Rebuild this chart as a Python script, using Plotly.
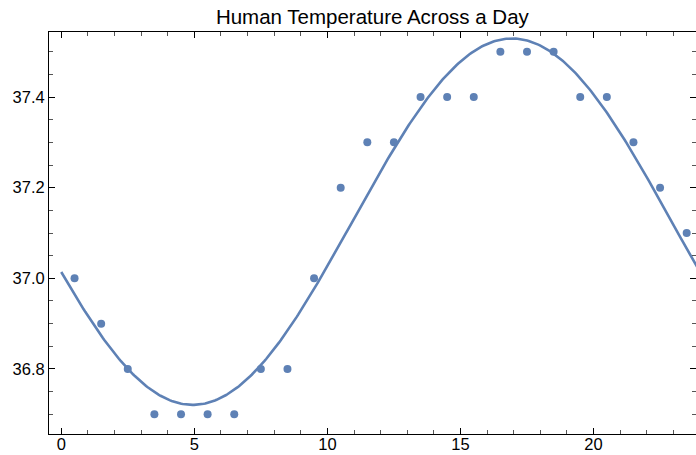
import numpy as np
import plotly.graph_objects as go

hours = [0.5, 1.5, 2.5, 3.5, 4.5, 5.5, 6.5, 7.5, 8.5, 9.5, 10.5, 11.5,
         12.5, 13.5, 14.5, 15.5, 16.5, 17.5, 18.5, 19.5, 20.5, 21.5, 22.5, 23.5]
temps = [37.0, 36.9, 36.8, 36.7, 36.7, 36.7, 36.7, 36.8, 36.8, 37.0, 37.2, 37.3,
         37.3, 37.4, 37.4, 37.4, 37.5, 37.5, 37.5, 37.4, 37.4, 37.3, 37.2, 37.1]
x_ticks = [0, 5, 10, 15, 20]
y_ticks = [36.8, 37.0, 37.2, 37.4]
y_tick_text = ["36.8", "37.0", "37.2", "37.4"]

# least-squares sinusoidal fit (period 24 h)
h = np.array(hours)
w = 2 * np.pi / 24
A = np.column_stack([np.ones_like(h), np.cos(w * h), np.sin(w * h)])
coef, *_ = np.linalg.lstsq(A, np.array(temps), rcond=None)
xf = np.linspace(0, 24, 400)
yf = coef[0] + coef[1] * np.cos(w * xf) + coef[2] * np.sin(w * xf)

col = "#5E81B5"
fig = go.Figure()
fig.add_trace(go.Scatter(x=xf, y=yf, mode="lines",
                         line=dict(color=col, width=2.6), hoverinfo="skip"))
fig.add_trace(go.Scatter(x=hours, y=temps, mode="markers",
                         marker=dict(color=col, size=8)))

axis_common = dict(showgrid=False, zeroline=False, showline=True, linecolor="black",
                   linewidth=1, mirror="allticks", ticks="inside", tickcolor="black",
                   ticklen=6, tickwidth=1, automargin=False,
                   tickfont=dict(family="Liberation Sans, Arial", size=16.5, color="black"))
fig.update_layout(
    width=696, height=455,
    margin=dict(l=49, r=0, t=32, b=21, autoexpand=False),
    plot_bgcolor="white", paper_bgcolor="white",
    showlegend=False,
    title=dict(text="Human Temperature Across a Day", x=0.535, xanchor="center",
               y=0.962, yanchor="middle", automargin=False,
               font=dict(family="Liberation Sans, Arial", size=20.5, color="black")),
    xaxis=dict(range=[-0.46, 23.85], tickvals=x_ticks, ticklabelstandoff=-5,
               minor=dict(dtick=1, tick0=0, ticks="inside", ticklen=4, tickcolor="#555", showgrid=False),
               **axis_common),
    yaxis=dict(range=[36.6565, 37.5435], tickvals=y_ticks, ticktext=y_tick_text,
               minor=dict(dtick=0.05, tick0=36.8, ticks="inside", ticklen=4, tickcolor="#555", showgrid=False),
               **axis_common),
)
fig.write_html("out.html")
